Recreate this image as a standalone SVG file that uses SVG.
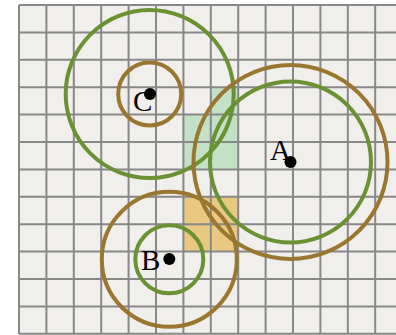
<svg xmlns="http://www.w3.org/2000/svg" width="396" height="335" viewBox="0 0 396 335">
<style>
.grid{stroke:#888;stroke-width:2;fill:none}
.br{fill:none;stroke:#9a7730;stroke-width:4}
.gr{fill:none;stroke:#6a9234;stroke-width:4}
.dot{fill:#000}
.lbl{font-family:"Liberation Serif","Times New Roman",serif;font-size:29px;fill:#000}
</style>
<rect width="396" height="335" fill="#fff"/>
<rect x="19" y="5" width="377" height="329" fill="#f0efec"/>
<g id="shading">
<rect x="183.4" y="114.6" width="27.4" height="54.8" fill="#c2e1c6"/>
<rect x="210.8" y="87.2" width="27.4" height="82.2" fill="#c2e1c6"/>
<rect x="183.4" y="197" width="54.8" height="54.8" fill="#e9c981"/>
</g>
<path class="grid" d="M19 5V334M46.4 5V334M73.8 5V334M101.2 5V334M128.6 5V334M156 5V334M183.4 5V334M210.8 5V334M238.2 5V334M265.6 5V334M293 5V334M320.4 5V334M347.8 5V334M375.2 5V334M19 5H396M19 32.4H396M19 59.8H396M19 87.2H396M19 114.6H396M19 142H396M19 169.4H396M19 196.8H396M19 224.2H396M19 251.6H396M19 279H396M19 306.4H396M19 333.8H396"/>
<g id="nodeC">
<circle class="gr" cx="149.7" cy="94" r="84"/>
<circle class="br" cx="149.7" cy="94" r="31.5"/>
<text class="lbl" x="133" y="111">C</text>
<circle class="dot" cx="150" cy="94" r="6"/>
</g>
<g id="nodeA">
<circle class="br" cx="290.5" cy="162" r="97"/>
<circle class="gr" cx="290.5" cy="162" r="80.5"/>
<text class="lbl" x="270" y="160">A</text>
<circle class="dot" cx="290.5" cy="162" r="6"/>
</g>
<g id="nodeB">
<circle class="br" cx="169.3" cy="259.3" r="67.5"/>
<circle class="gr" cx="169.3" cy="259.3" r="34"/>
<text class="lbl" x="141" y="270">B</text>
<circle class="dot" cx="169.3" cy="259" r="6"/>
</g>
<g id="connectors"/>
</svg>
